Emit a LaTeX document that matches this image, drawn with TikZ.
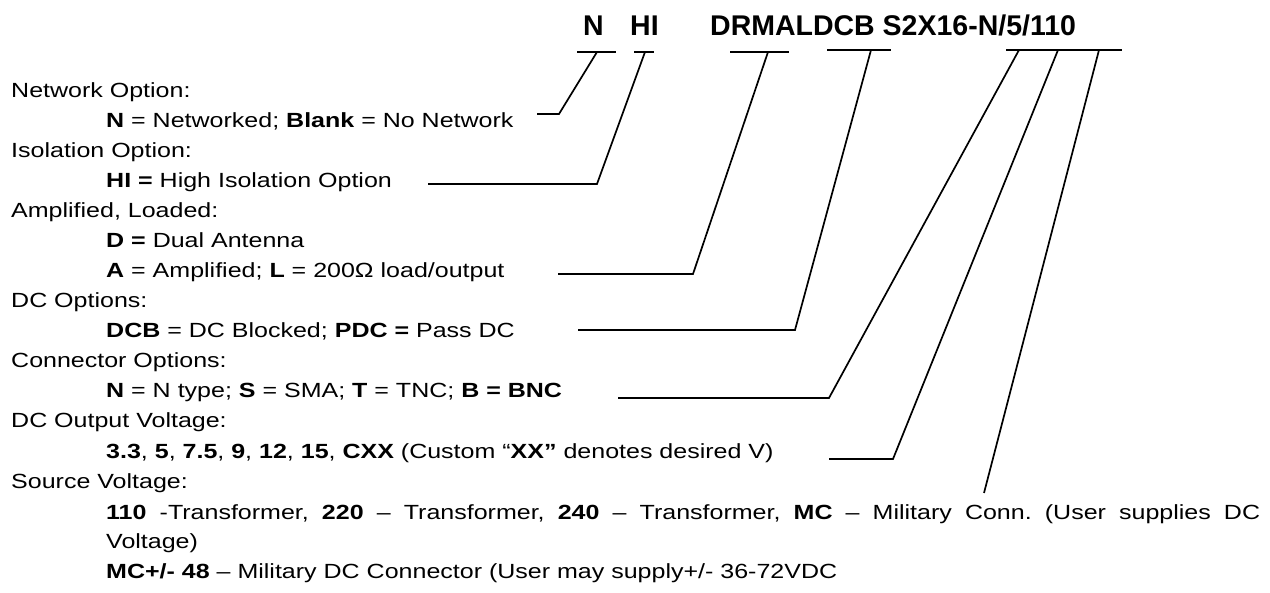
\documentclass[tikz,border=0pt]{standalone}
\usepackage{fontspec}
\setmainfont{Liberation Sans}
\newfontfamily\bodyfont[FakeStretch=1.22]{Liberation Sans}
\frenchspacing
\begin{document}
\begin{tikzpicture}[x=1pt,y=-1pt,
  body/.style={anchor=base west, inner sep=0pt, font=\bodyfont\fontsize{20.5}{25}\selectfont},
  ttl/.style={anchor=base west, inner sep=0pt, font=\fontsize{28.5}{34}\selectfont\bfseries},
  lead/.style={line width=1.7pt, black, line join=miter}]
\useasboundingbox (0,0) rectangle (1270,593);
% title
\node[ttl] (tN) at (583,36) {N};
\node[ttl] (tHI) at (630,36) {HI};
\node[ttl] (tR) at (710,36) {DRMALDCB S2X16-N/5/110};
% rows
\def\L{11}\def\I{106}
\node[body] (r0) at (\L,98) {Network Option:};
\node[body] (r1) at (\I,128) {\textbf{N} = Networked; \textbf{Blank} = No Network};
\node[body] (r2) at (\L,158) {Isolation Option:};
\node[body] (r3) at (\I,188) {\textbf{HI =} High Isolation Option};
\node[body] (r4) at (\L,218) {Amplified, Loaded:};
\node[body] (r5) at (\I,248) {\textbf{D =} Dual Antenna};
\node[body] (r6) at (\I,278) {\textbf{A} = Amplified; \textbf{L} = 200Ω load/output};
\node[body] (r7) at (\L,308) {DC Options:};
\node[body] (r8) at (\I,338) {\textbf{DCB} = DC Blocked; \textbf{PDC =} Pass DC};
\node[body] (r9) at (\L,368) {Connector Options:};
\node[body] (r10) at (\I,398) {\textbf{N} = N type; \textbf{S} = SMA; \textbf{T} = TNC; \textbf{B = BNC}};
\node[body] (r11) at (\L,428) {DC Output Voltage:};
\node[body] (r12) at (\I,459) {\textbf{3.3}, \textbf{5}, \textbf{7.5}, \textbf{9}, \textbf{12}, \textbf{15}, \textbf{CXX} (Custom “\textbf{XX”} denotes desired V)};
\node[body] (r13) at (\L,489) {Source Voltage:};
\node[body] (r14) at (\I,519) {\makebox[1154pt][s]{\textbf{110} -Transformer, \textbf{220} – Transformer, \textbf{240} – Transformer, \textbf{MC} – Military Conn. (User supplies DC}};
\node[body] (r15) at (\I,548) {Voltage)};
\node[body] (r16) at (\I,578) {\textbf{MC+/- 48} – Military DC Connector (User may supply+/- 36-72VDC};
% underline coordinates
\coordinate (u1a) at (577,52); \coordinate (u1b) at (616,52);
\coordinate (u2a) at (634,52); \coordinate (u2b) at (654,52);
\coordinate (u3a) at (730,52); \coordinate (u3b) at (789,52);
\coordinate (u4a) at (827,50); \coordinate (u4b) at (891,50);
\coordinate (u5a) at (1006,50); \coordinate (u5b) at (1122,50);
% leader points
\coordinate (t1) at (597,52);  \coordinate (c1) at (559,114); \coordinate (s1) at (537,114);
\coordinate (t2) at (645,52);  \coordinate (c2) at (597,184); \coordinate (s2) at (428,184);
\coordinate (t3) at (768,52);  \coordinate (c3) at (693,274); \coordinate (s3) at (558,274);
\coordinate (t4) at (871,50);  \coordinate (c4) at (795,330); \coordinate (s4) at (578,330);
\coordinate (t5) at (1019,50); \coordinate (c5) at (829,398); \coordinate (s5) at (618,398);
\coordinate (t6) at (1058,50); \coordinate (c6) at (893,459); \coordinate (s6) at (829,459);
\coordinate (t7) at (1099,50); \coordinate (c7) at (984,493);
\draw[lead] (u1a) -- (u1b);
\draw[lead] (u2a) -- (u2b);
\draw[lead] (u3a) -- (u3b);
\draw[lead] (u4a) -- (u4b);
\draw[lead] (u5a) -- (u5b);
\draw[lead] (t1) -- (c1) -- (s1);
\draw[lead] (t2) -- (c2) -- (s2);
\draw[lead] (t3) -- (c3) -- (s3);
\draw[lead] (t4) -- (c4) -- (s4);
\draw[lead] (t5) -- (c5) -- (s5);
\draw[lead] (t6) -- (c6) -- (s6);
\draw[lead] (t7) -- (c7);
\end{tikzpicture}
\end{document}
